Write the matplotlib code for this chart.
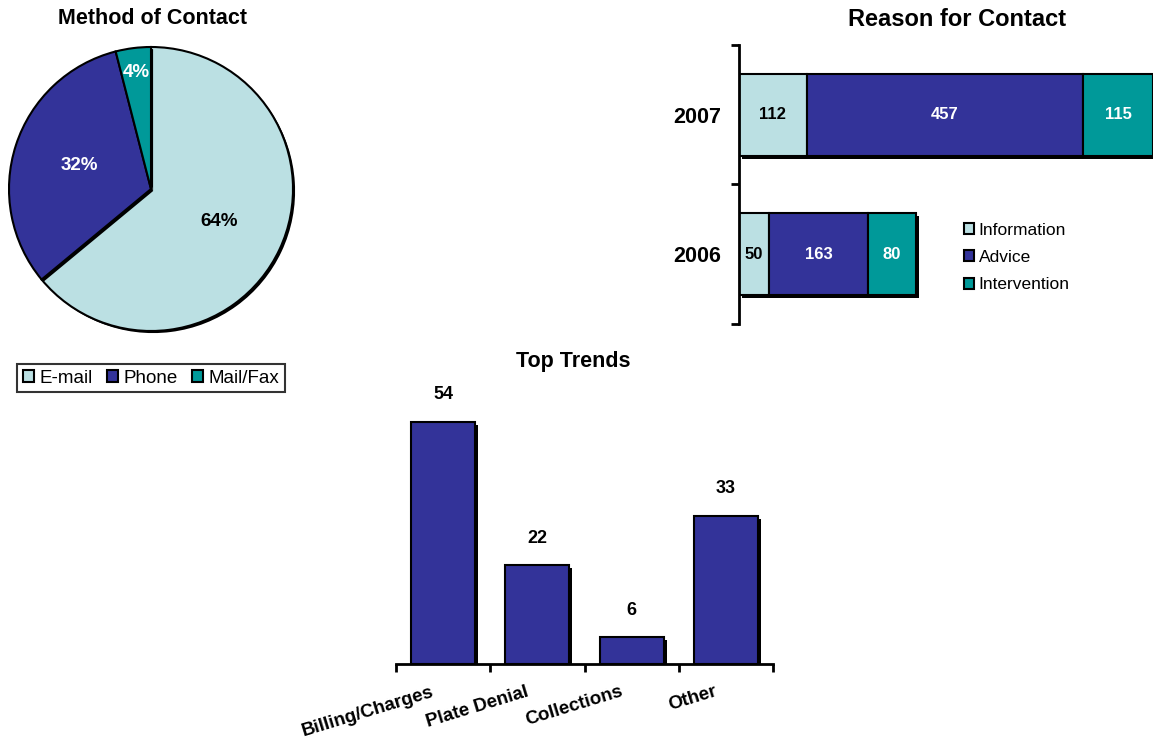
import numpy as np
import matplotlib
matplotlib.use("Agg")
import matplotlib.pyplot as plt
import matplotlib.patheffects as pe
from matplotlib.patches import Patch
from matplotlib.transforms import ScaledTranslation

plt.rcParams['font.family'] = ['Liberation Sans', 'DejaVu Sans']

# method of contact (percent)
contact_methods = ['E-mail', 'Phone', 'Mail/Fax']
contact_share = [64, 32, 4]

# reason for contact by year
years = ['2006', '2007']
reason_names = ['Information', 'Advice', 'Intervention']
information = [50, 112]
advice = [163, 457]
intervention = [80, 115]

# top trends
trend_names = ['Billing/Charges', 'Plate Denial', 'Collections', 'Other']
trend_counts = [54, 22, 6, 33]

LIGHT = '#BBE0E3'
INDIGO = '#333399'
TEAL = '#009999'
colors = [LIGHT, INDIGO, TEAL]

W, H = 1153, 738
fig = plt.figure(figsize=(W / 100, H / 100), dpi=100)


def box(x0, y0, x1, y1):
    # pixel box (top-left origin) -> figure fraction rect
    return [x0 / W, 1 - y1 / H, (x1 - x0) / W, (y1 - y0) / H]


def shadow(dx=2.2, dy=-2.2):
    return [pe.SimplePatchShadow(offset=(dx, dy), shadow_rgbFace='black', alpha=1), pe.Normal()]


def swatches():
    return [Patch(facecolor=c, edgecolor='black', linewidth=1.5) for c in colors]


# ---- pie ----
ax1 = fig.add_axes(box(9, 47, 293, 331))
wedges, _ = ax1.pie(contact_share, colors=colors, startangle=90, counterclock=False,
                    wedgeprops=dict(edgecolor='black', linewidth=1.5))
for w in wedges:
    w.set_path_effects(shadow(1.5, -1.5))
    w.set_clip_on(False)
ax1.set_xlim(-1, 1)
ax1.set_ylim(-1, 1)
ax1.set_aspect('equal')
label_dist = [0.53, 0.53, 0.83]
label_col = ['black', 'white', 'white']
for w, v, d, c in zip(wedges, contact_share, label_dist, label_col):
    ang = np.deg2rad((w.theta1 + w.theta2) / 2)
    ax1.text(d * np.cos(ang), d * np.sin(ang), f'{v}%', ha='center', va='center',
             fontsize=13.5, fontweight='bold', color=c)
fig.text(152 / W, 1 - 19 / H, 'Method of Contact', ha='center', va='center',
         fontsize=15.5, fontweight='bold')
leg1 = fig.legend(swatches(), contact_methods, loc='upper left',
                  bbox_to_anchor=(17 / W, 1 - 364 / H),
                  ncol=3, fontsize=13.5, frameon=True, fancybox=False, edgecolor='black',
                  handlelength=0.6, handleheight=0.6, handletextpad=0.3, columnspacing=0.75,
                  borderpad=0.3, borderaxespad=0)
leg1.get_frame().set_linewidth(1.5)

# ---- reason for contact ----
ax2 = fig.add_axes(box(739, 45, 1153, 324))
y = np.arange(len(years))
left = np.zeros(len(years))
txt_col = ['black', 'white', 'white']
for vals, c, tc in zip([information, advice, intervention], colors, txt_col):
    bars = ax2.barh(y, vals, left=left, height=0.59, color=c, edgecolor='black',
                    linewidth=1.5)
    for b in bars:
        b.set_path_effects(shadow())
    for yi, l, v in zip(y, left, vals):
        ax2.text(l + v / 2, yi, str(v), ha='center', va='center', fontsize=12,
                 fontweight='bold', color=tc)
    left = left + np.array(vals)
ax2.set_xlim(0, 684)
ax2.set_ylim(-0.5, 1.5)
for s in ['top', 'right', 'bottom']:
    ax2.spines[s].set_visible(False)
ax2.spines['left'].set_linewidth(2)
ax2.set_xticks([])
ax2.set_yticks(y, years, fontsize=15.5, fontweight='bold')
ax2.set_yticks([-0.5, 0.5, 1.5], minor=True)
ax2.tick_params(axis='y', which='major', length=0, pad=13)
ax2.tick_params(axis='y', which='minor', length=6, width=2)
fig.text(957 / W, 1 - 19 / H, 'Reason for Contact', ha='center', va='center',
         fontsize=17, fontweight='bold')
fig.legend(swatches(), reason_names, loc='upper left', bbox_to_anchor=(957 / W, 1 - 216 / H),
           frameon=False, fontsize=12.5, handlelength=0.6, handleheight=0.6,
           handletextpad=0.25, labelspacing=0.7, borderaxespad=0)

# ---- top trends ----
ax3 = fig.add_axes(box(396, 395, 773, 664))
x = np.arange(len(trend_names))
bars3 = ax3.bar(x, trend_counts, width=0.68, color=INDIGO, edgecolor='black', linewidth=1.5)
for b in bars3:
    b.set_path_effects(shadow())
for xi, v in zip(x, trend_counts):
    ax3.annotate(str(v), (xi, v), xytext=(0, 19.5), textcoords='offset points',
                 ha='center', va='center', fontsize=13, fontweight='bold')
ax3.set_xlim(-0.5, 3.5)
ax3.set_ylim(0, 60)
for s in ['top', 'right', 'left']:
    ax3.spines[s].set_visible(False)
ax3.spines['bottom'].set_linewidth(2)
ax3.set_yticks([])
ax3.set_xticks(x, trend_names, fontsize=13.5, fontweight='bold', rotation=17,
               ha='right', va='top', rotation_mode='anchor')
ax3.set_xticks(np.arange(-0.5, 4, 1), minor=True)
ax3.tick_params(axis='x', which='major', length=0, pad=14)
ax3.tick_params(axis='x', which='minor', length=6, width=2)
shift = ScaledTranslation(-0.12, 0, fig.dpi_scale_trans)
for t in ax3.get_xticklabels():
    t.set_transform(t.get_transform() + shift)
fig.text(573 / W, 1 - 362 / H, 'Top Trends', ha='center', va='center',
         fontsize=15.5, fontweight='bold')

fig.savefig('out.png', dpi=100)
